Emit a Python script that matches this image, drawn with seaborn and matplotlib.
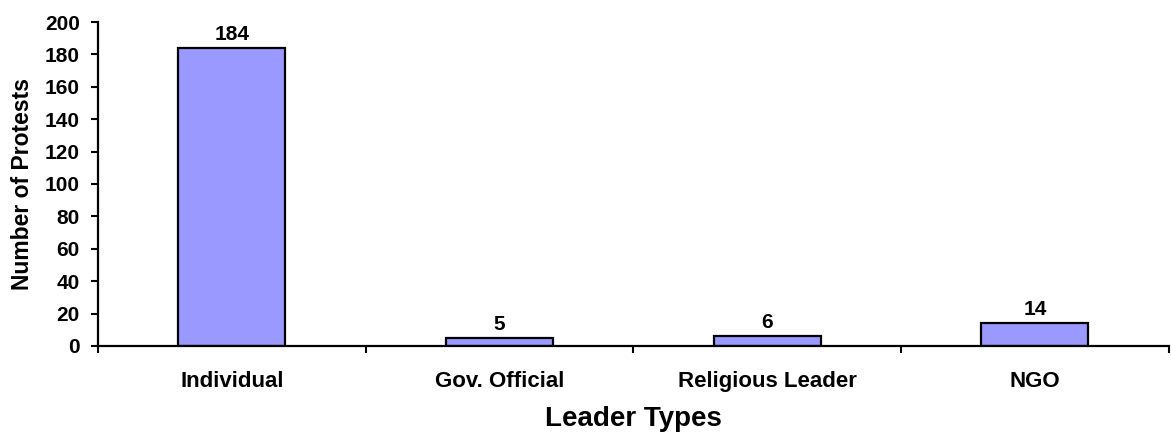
import matplotlib
matplotlib.use("Agg")
import matplotlib.pyplot as plt
import seaborn as sns
import numpy as np

categories = ["Individual", "Gov. Official", "Religious Leader", "NGO"]
protests = [184, 5, 6, 14]
y_ticks = [0, 20, 40, 60, 80, 100, 120, 140, 160, 180, 200]

sns.set_style("white")
plt.rcParams["font.family"] = ["Liberation Sans", "DejaVu Sans"]
plt.rcParams["font.weight"] = "bold"
plt.rcParams["text.color"] = "black"
plt.rcParams["axes.labelcolor"] = "black"
plt.rcParams["xtick.color"] = "black"
plt.rcParams["ytick.color"] = "black"

fig = plt.figure(figsize=(11.71, 4.34), dpi=100)
ax = fig.add_axes([0.0837, 0.2028, 0.9143, 0.7465])

sns.barplot(x=categories, y=protests, color="#9999FF", saturation=1,
            edgecolor="black", linewidth=1.6, width=0.4, ax=ax)

for i, v in enumerate(protests):
    ax.annotate(f"{v}", (i, v), xytext=(0, 3), textcoords="offset points",
                ha="center", va="bottom", fontsize=15, fontweight="bold",
                color="black")

ax.set_ylim(0, 200)
ax.set_yticks(y_ticks)
ax.set_yticklabels([str(t) for t in y_ticks], fontsize=15, fontweight="bold")
ax.set_xlim(-0.5, len(categories) - 0.5)

# category boundaries carry the tick marks, labels sit centred under the bars
ax.set_xticks(np.arange(-0.5, len(categories), 1.0))
ax.set_xticklabels([])
ax.set_xticks(np.arange(len(categories)), minor=True)
ax.set_xticklabels(categories, minor=True, fontsize=16, fontweight="bold")
ax.tick_params(axis="x", which="minor", length=0, pad=18)
ax.tick_params(axis="x", which="major", direction="out", length=5, width=1.5, color="black", bottom=True)
ax.tick_params(axis="y", direction="out", length=5, width=1.5, color="black", left=True, pad=8)

for side in ["top", "right"]:
    ax.spines[side].set_visible(False)
for side in ["left", "bottom"]:
    ax.spines[side].set_color("black")
    ax.spines[side].set_linewidth(1.6)

ax.set_xlabel("Leader Types", fontsize=20, fontweight="bold", labelpad=10)
ax.set_ylabel("Number of Protests", fontsize=16.5, fontweight="bold", labelpad=8)

fig.savefig("out.png", dpi=100, facecolor="white")
